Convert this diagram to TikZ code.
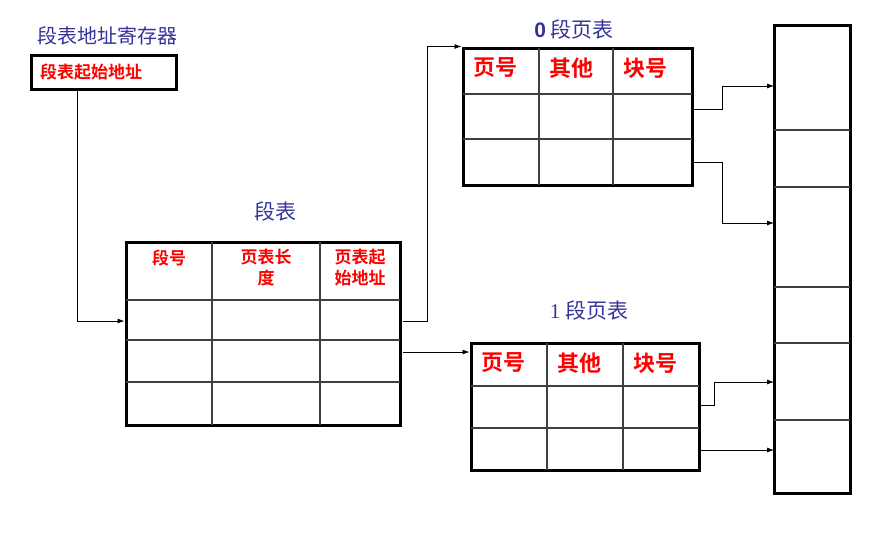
\documentclass[tikz,border=0pt]{standalone}
\usepackage{fontspec}
\newfontfamily\cjk{Noto Sans CJK SC}[BoldFont={Noto Sans CJK SC Bold}]
\newfontfamily\latinsans{Liberation Sans}
\newfontfamily\latinserif{Liberation Serif}
\usetikzlibrary{arrows.meta}

\definecolor{titleblue}{RGB}{51,51,153}

\tikzset{
  tbl/.style={draw, line width=3pt, inner sep=0pt},
  cell/.style={line width=1.2pt, black!75},
  link/.style={-{Latex[length=7pt,width=5pt]}, line width=0.8pt},
  head/.style={text=red, inner sep=0pt, align=center, font=\cjk\bfseries\fontsize{17}{21}\selectfont},
  bighead/.style={text=red, inner sep=0pt, font=\cjk\bfseries\fontsize{22}{24}\selectfont},
  title/.style={text=titleblue, inner sep=0pt, font=\cjk\fontsize{21}{24}\selectfont}
}

\begin{document}
\begin{tikzpicture}[x=1pt,y=-1pt]
\useasboundingbox (0,0) rectangle (875,558);

% register
\node[title, font=\cjk\fontsize{20}{24}\selectfont] (regtitle) at (107,36) {段表地址寄存器};
\node[tbl, minimum width=145pt, minimum height=34pt] (reg) at (103.5,72.5) {};
\node[head, anchor=west] (regtext) at (40,72) {段表起始地址};

% segment table
\node[title] (segtitle) at (275,211) {段表};
\node[tbl, minimum width=274pt, minimum height=183pt] (seg) at (263,333.5) {};
\draw[cell] (212,242) -- (212,425);
\draw[cell] (320,242) -- (320,425);
\foreach \y in {300,340,382}
  \draw[cell] (126,\y) -- (400,\y);
\node[head] (segno) at (169,258) {段号};
\node[head] (seglen) at (266,268) {页表长\\度};
\node[head] (segaddr) at (360,268) {页表起\\始地址};

% page table of segment 0
\node[title] (p0title) at (574,29) {{\latinsans\bfseries 0} 段页表};
\node[tbl, minimum width=229pt, minimum height=137pt] (p0) at (577.5,116.5) {};
\draw[cell] (539,48) -- (539,185);
\draw[cell] (613,48) -- (613,185);
\foreach \y in {94,139}
  \draw[cell] (463,\y) -- (692,\y);
\node[bighead] (p0page) at (495,68) {页号};
\node[bighead] (p0other) at (571,68) {其他};
\node[bighead] (p0block) at (645,68) {块号};

% page table of segment 1
\node[title] (p1title) at (589,310) {{\latinserif 1} 段页表};
\node[tbl, minimum width=228pt, minimum height=127pt] (p1) at (585,406.5) {};
\draw[cell] (547,343) -- (547,470);
\draw[cell] (623,343) -- (623,470);
\foreach \y in {386,428}
  \draw[cell] (471,\y) -- (699,\y);
\node[bighead] (p1page) at (503,363) {页号};
\node[bighead] (p1other) at (579,363) {其他};
\node[bighead] (p1block) at (655,363) {块号};

% memory
\node[tbl, minimum width=76pt, minimum height=468pt] (mem) at (812,259) {};
\foreach \y in {130,187,287,343,420}
  \draw[cell] (774,\y) -- (850,\y);

% connector points
\coordinate (s1) at (403,321);
\coordinate (s2) at (403,352);
\coordinate (a1) at (692,109);
\coordinate (a2) at (692,162);
\coordinate (b1) at (699,405);
\coordinate (b2) at (699,450);
\coordinate (m1) at (774,86);
\coordinate (m2) at (774,223);
\coordinate (m3) at (774,382);
\coordinate (m4) at (774,450);

\draw[link] (reg.south -| 77,0) |- (seg.west |- s1);
\draw[link] (s1) -- ++(24,0) |- (p0.north west);
\draw[link] (s2) -- (p1.west |- s2);
\draw[link] (a1) -- ++(30,0) |- (m1);
\draw[link] (a2) -- ++(30,0) |- (m2);
\draw[link] (b1) -- ++(15,0) |- (m3);
\draw[link] (b2) -- (m4);
\end{tikzpicture}
\end{document}
